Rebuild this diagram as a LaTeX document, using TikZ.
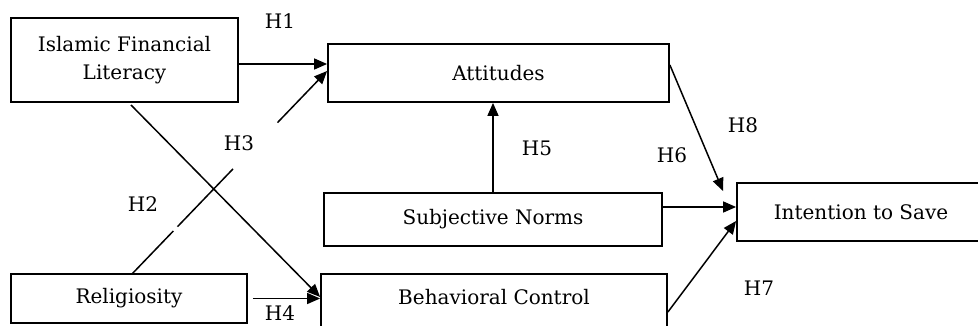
\documentclass[tikz,border=0pt]{standalone}
\usepackage{fontspec}
\setmainfont{DejaVu Serif}
\usetikzlibrary{arrows.meta,calc}
\begin{document}
\begin{tikzpicture}[x=1pt,y=-1pt,
  box/.style={draw=black,line width=1.8pt,inner sep=0pt,align=center,font=\fontsize{20}{28}\selectfont},
  lbl/.style={inner sep=0pt,font=\fontsize{20}{28}\selectfont},
  hyp/.style={inner sep=0pt,font=\fontsize{20}{24}\selectfont},
  conn/.style={draw=black,line width=1.5pt},
  arr/.style={conn,-{Triangle[length=13pt,width=11pt]}}]
\useasboundingbox[fill=white] (0,0) rectangle (978,326);
% boxes
\node[box,minimum width=227pt,minimum height=84pt] (ifl) at (124.5,60) {Islamic Financial\\Literacy};
\node[box,minimum width=341pt,minimum height=58pt] (att) at (498.5,73) {Attitudes};
\node[box,minimum width=338pt,minimum height=53pt] (sn) at (493,219.5) {Subjective Norms};
\node[box,minimum width=248pt,minimum height=58pt] (its) at (861,212) {Intention to Save};
\node[box,minimum width=236pt,minimum height=49pt] (rel) at (129,298.5) {Religiosity};
\node[box,minimum width=346pt,minimum height=60pt] (bc) at (494,304) {};
\node[lbl] (bct) at (494,297) {Behavioral Control};
% hypothesis labels
\node[hyp] (h1) at (280,21) {H1};
\node[hyp] (h2) at (143,204) {H2};
\node[hyp] (h3) at (239,143) {H3};
\node[hyp] (h4) at (280,313) {H4};
\node[hyp] (h5) at (537,148) {H5};
\node[hyp] (h6) at (672,155) {H6};
\node[hyp] (h7) at (759,288) {H7};
\node[hyp] (h8) at (743,125) {H8};
% helper coordinates
\coordinate (h1s) at ([yshift=-4pt]ifl.east);
\coordinate (h3s) at (132,274);
\coordinate (h3e) at ([yshift=2pt]att.west);
\coordinate (h4s) at (131,105);
\coordinate (h6s) at ([yshift=12.5pt]sn.east);
\coordinate (h8s) at ([yshift=8pt]att.east);
\coordinate (h8e) at ([shift={(-13pt,-9pt)}]its.north west);
\coordinate (h7s) at ([yshift=-8pt]bc.east);
\coordinate (h7e) at ([yshift=-9pt]its.west);
\coordinate (rs) at ([xshift=5pt]rel.east);
% connectors
\draw[arr] (h1s) -- (h1s -| att.west);
\draw[conn] (h3s) -- ($(h3s)!0.212!(h3e)$);
\draw[conn] ($(h3s)!0.233!(h3e)$) -- ($(h3s)!0.518!(h3e)$);
\draw[arr] ($(h3s)!0.746!(h3e)$) -- (h3e);
\draw[arr] (h4s) -- (bc.west |- bct);
\draw[arr] (rs) -- (bc.west |- rs);
\draw[arr] (sn.north) -- (sn.north |- att.south);
\draw[arr] (h6s) -- (h6s -| its.west);
\draw[arr] (h8s) -- (h8e);
\draw[arr] (h7s) -- (h7e);
\end{tikzpicture}
\end{document}
